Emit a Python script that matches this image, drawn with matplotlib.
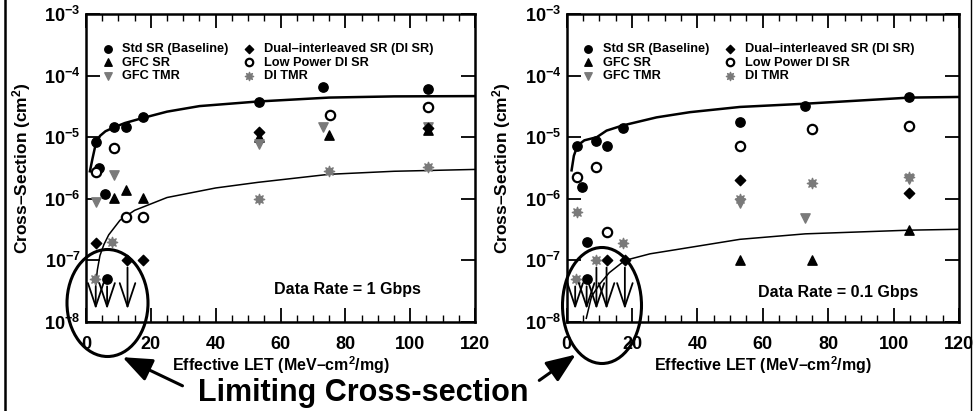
import matplotlib
matplotlib.use('Agg')
import matplotlib.pyplot as plt
from matplotlib.patches import Ellipse, FancyArrowPatch
from matplotlib.ticker import MultipleLocator, NullLocator

plt.rcParams['font.family'] = ['Liberation Sans', 'DejaVu Sans']
plt.rcParams['font.weight'] = 'bold'
plt.rcParams['mathtext.fontset'] = 'custom'
plt.rcParams['mathtext.rm'] = 'Liberation Sans:bold'
plt.rcParams['mathtext.bf'] = 'Liberation Sans:bold'
plt.rcParams['mathtext.it'] = 'Liberation Sans:bold'

# ---------------- data ----------------
series_names = ['Std SR (Baseline)', 'GFC SR', 'GFC TMR',
                'Dual\u2013interleaved SR (DI SR)', 'Low Power DI SR', 'DI TMR']

# left panel, 1 Gbps
l_std_x = [3.1, 4.1, 6.0, 6.6, 8.7, 12.3, 17.5, 53.3, 73.0, 105.6]
l_std_y = [8.5e-6, 3.2e-6, 1.2e-6, 5e-8, 1.45e-5, 1.45e-5, 2.1e-5, 3.8e-5, 6.6e-5, 6.0e-5]
l_gfc_x = [8.7, 12.3, 17.5, 53.3, 75.0, 105.6]
l_gfc_y = [1.05e-6, 1.4e-6, 1.05e-6, 1.0e-5, 1.07e-5, 1.3e-5]
l_gtmr_x = [3.1, 8.7, 53.3, 73.0, 105.6]
l_gtmr_y = [9e-7, 2.4e-6, 7.8e-6, 1.45e-5, 1.45e-5]
l_di_x = [3.1, 12.5, 17.6, 53.3, 105.6]
l_di_y = [1.95e-7, 1e-7, 1e-7, 1.2e-5, 1.4e-5]
l_lp_x = [3.1, 8.7, 12.3, 17.5, 75.3, 105.6]
l_lp_y = [2.7e-6, 6.6e-6, 5e-7, 5e-7, 2.3e-5, 3.1e-5]
l_dtmr_x = [2.9, 8.0, 53.3, 75.0, 105.6]
l_dtmr_y = [5e-8, 2e-7, 1.0e-6, 2.8e-6, 3.3e-6]
l_fit_hi_x = [1.2, 2.0, 2.8, 4.3, 6.0, 8.7, 12.0, 17.5, 25, 35, 53, 75, 95, 120]
l_fit_hi_y = [2.8e-6, 4.5e-6, 7e-6, 1.05e-5, 1.25e-5, 1.45e-5, 1.7e-5, 2.05e-5,
              2.6e-5, 3.2e-5, 3.8e-5, 4.4e-5, 4.6e-5, 4.65e-5]
l_fit_lo_x = [3.0, 3.5, 4.3, 5.5, 7.0, 10.5, 15, 25, 40, 53, 75, 95, 120]
l_fit_lo_y = [4e-8, 7e-8, 1.2e-7, 1.8e-7, 2.6e-7, 4.5e-7, 6.5e-7, 1.05e-6,
              1.5e-6, 1.85e-6, 2.5e-6, 2.8e-6, 3.0e-6]
l_arrow_x = [3.0, 6.5, 12.8]
l_arrow_top = [4.2e-8, 4.2e-8, 8.5e-8]

# right panel, 0.1 Gbps
r_std_x = [3.2, 4.6, 6.1, 6.2, 9.0, 12.4, 17.1, 53.0, 72.9, 104.8]
r_std_y = [7.1e-6, 1.55e-6, 2e-7, 5e-8, 8.7e-6, 7.1e-6, 1.4e-5, 1.75e-5, 3.2e-5, 4.5e-5]
r_gfc_x = [53.0, 75.0, 104.8]
r_gfc_y = [1e-7, 1e-7, 3.1e-7]
r_gtmr_x = [53.0, 73.0, 104.8]
r_gtmr_y = [8.5e-7, 4.9e-7, 2.1e-6]
r_di_x = [12.3, 17.8, 53.0, 104.8]
r_di_y = [1e-7, 1e-7, 2e-6, 1.23e-6]
r_lp_x = [3.2, 9.0, 12.2, 53.0, 75.0, 104.8]
r_lp_y = [2.3e-6, 3.3e-6, 2.9e-7, 7.1e-6, 1.35e-5, 1.5e-5]
r_dtmr_x = [3.0, 3.2, 8.9, 17.1, 53.0, 75.0, 104.8]
r_dtmr_y = [5e-8, 6e-7, 1e-7, 1.9e-7, 1.0e-6, 1.8e-6, 2.3e-6]
r_fit_hi_x = [1.5, 2.2, 3.3, 5.4, 9.2, 12.2, 17.1, 27.5, 37.7, 53, 73, 105, 120]
r_fit_hi_y = [2.9e-6, 5e-6, 7.3e-6, 8.9e-6, 1.0e-5, 1.28e-5, 1.55e-5, 2.1e-5,
              2.55e-5, 3.1e-5, 3.5e-5, 4.4e-5, 4.5e-5]
r_fit_lo_x = [6.0, 7.6, 10.2, 13.0, 17.8, 25.5, 33.6, 53, 73, 105, 120]
r_fit_lo_y = [1.15e-8, 2.6e-8, 4.2e-8, 6.3e-8, 1e-7, 1.28e-7, 1.5e-7, 2.2e-7,
              2.7e-7, 3.1e-7, 3.2e-7]
r_arrow_x = [2.6, 6.1, 9.1, 12.2, 17.8]
r_arrow_top = [4.2e-8, 4.2e-8, 8.5e-8, 8.5e-8, 8.5e-8]

GREY = '#7a7a7a'
styles = [dict(marker='o', color='black', s=45),
          dict(marker='^', color='black', s=45),
          dict(marker='v', color=GREY, s=45),
          dict(marker='D', color='black', s=28),
          dict(marker='o', facecolor='white', edgecolor='black', linewidth=1.6, s=45),
          dict(marker=(8, 1, 0), color=GREY, s=55)]


def draw_panel(ax, pts, fit_hi, fit_lo, arrows, rate_text, rate_pos):
    ax.set_yscale('log')
    ax.set_xlim(0, 120)
    ax.set_ylim(1e-8, 1e-3)

    ax.plot(fit_hi[0], fit_hi[1], color='black', lw=1.8, zorder=2)
    ax.plot(fit_lo[0], fit_lo[1], color='black', lw=1.1, zorder=2)

    handles = []
    for (x, y), st, name in zip(pts, styles, series_names):
        h = ax.scatter(x, y, zorder=3, label=name, **st)
        handles.append(h)

    for xa, ya in zip(arrows[0], arrows[1]):
        ax.annotate('', xy=(xa, 1.45e-8), xytext=(xa, ya),
                    arrowprops=dict(arrowstyle='->,head_length=1.2,head_width=0.4',
                                    color='black', lw=1.3, mutation_scale=14))

    ax.legend(handles=handles, ncol=2, loc='upper left', frameon=False,
              bbox_to_anchor=(0.0, 0.935), fontsize=9.2, handletextpad=0.15,
              columnspacing=0.6, labelspacing=0.12, markerscale=0.8,
              borderaxespad=0.3)

    ax.text(rate_pos[0], rate_pos[1], rate_text, transform=ax.transAxes, ha='center',
            va='center', fontsize=11.5, fontweight='bold')

    ax.xaxis.set_major_locator(MultipleLocator(20))
    ax.xaxis.set_minor_locator(MultipleLocator(5))
    ax.yaxis.set_minor_locator(NullLocator())
    ax.tick_params(which='both', direction='in', top=True, right=True)
    ax.tick_params(which='major', length=10, width=1.3, labelsize=13)
    ax.tick_params(which='minor', length=5, width=1.0)
    ax.tick_params(axis='x', pad=10)
    ax.tick_params(axis='y', pad=4)
    for sp in ax.spines.values():
        sp.set_linewidth(1.8)

    ax.set_xlabel('Effective LET (MeV\u2013cm$^2$/mg)', fontsize=11.5,
                  fontweight='bold', labelpad=1)
    ax.set_ylabel('Cross\u2013Section (cm$^2$)', fontsize=12.5,
                  fontweight='bold', labelpad=8)


fig = plt.figure(figsize=(9.73, 4.11), dpi=100)
ax1 = fig.add_axes([0.0884, 0.2165, 0.3998, 0.7494])
ax2 = fig.add_axes([0.5824, 0.2165, 0.4032, 0.7494])

draw_panel(ax1,
           [(l_std_x, l_std_y), (l_gfc_x, l_gfc_y), (l_gtmr_x, l_gtmr_y),
            (l_di_x, l_di_y), (l_lp_x, l_lp_y), (l_dtmr_x, l_dtmr_y)],
           (l_fit_hi_x, l_fit_hi_y), (l_fit_lo_x, l_fit_lo_y),
           (l_arrow_x, l_arrow_top), 'Data Rate = 1 Gbps', (0.672, 0.104))
draw_panel(ax2,
           [(r_std_x, r_std_y), (r_gfc_x, r_gfc_y), (r_gtmr_x, r_gtmr_y),
            (r_di_x, r_di_y), (r_lp_x, r_lp_y), (r_dtmr_x, r_dtmr_y)],
           (r_fit_hi_x, r_fit_hi_y), (r_fit_lo_x, r_fit_lo_y),
           (r_arrow_x, r_arrow_top), 'Data Rate = 0.1 Gbps', (0.693, 0.097))

# ellipses marking the limiting cross-section region (inches from lower left)
tr = fig.dpi_scale_trans
fig.patches.append(Ellipse((1.075, 1.08), 0.81, 1.07, fill=False, lw=2.2,
                           edgecolor='black', transform=tr, figure=fig))
fig.patches.append(Ellipse((6.02, 1.055), 0.79, 1.16, fill=False, lw=2.2,
                           edgecolor='black', transform=tr, figure=fig))

fig.text(0.373, 0.045, 'Limiting Cross-section', ha='center', va='center',
         fontsize=22, fontweight='bold')
arrow_kw = dict(arrowstyle='-|>,head_length=1.5,head_width=0.6', color='black',
                lw=2.2, mutation_scale=12)
fig.add_artist(FancyArrowPatch((1.85, 0.24), (1.20, 0.55), transform=tr, **arrow_kw))
fig.add_artist(FancyArrowPatch((5.37, 0.29), (5.78, 0.58), transform=tr, **arrow_kw))

# page border lines
fig.add_artist(plt.Line2D([0.005, 0.005], [0, 1], transform=fig.transFigure,
                          color='black', lw=1.8))
fig.add_artist(plt.Line2D([0.998, 0.998], [0, 1], transform=fig.transFigure,
                          color='black', lw=1.0))

fig.savefig('out.png', dpi=100)
